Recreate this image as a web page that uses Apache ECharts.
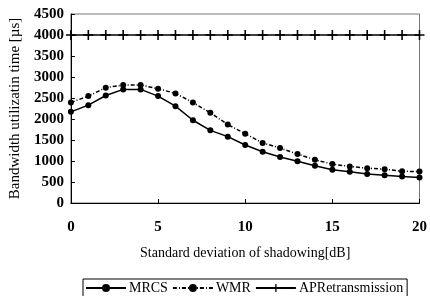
<!DOCTYPE html>
<html>
<head>
<meta charset="utf-8">
<script src="https://cdn.jsdelivr.net/npm/echarts@6/dist/echarts.min.js"></script>
<style>
  html, body { margin: 0; padding: 0; background: #fff; }
  #chart { width: 430px; height: 296px; }
</style>
</head>
<body>
<div id="chart"></div>
<script>
const xValues = [0, 1, 2, 3, 4, 5, 6, 7, 8, 9, 10, 11, 12, 13, 14, 15, 16, 17, 18, 19, 20]
const mrcs = [2170, 2330, 2560, 2705, 2705, 2545, 2305, 1970, 1730, 1580, 1380, 1220, 1095, 995, 886, 790, 742, 690, 663, 630, 605]
const wmr = [2394, 2545, 2745, 2810, 2810, 2720, 2610, 2394, 2147, 1867, 1650, 1430, 1310, 1165, 1030, 926, 870, 830, 806, 755, 750]
const apRetransmission = [4000, 4000, 4000, 4000, 4000, 4000, 4000, 4000, 4000, 4000, 4000, 4000, 4000, 4000, 4000, 4000, 4000, 4000, 4000, 4000, 4000]

const font = 'Liberation Serif'
const pair = (ys) => xValues.map((x, i) => [x, ys[i]])
// plus shaped marker for the AP line
const plus = 'path://M4.2,0 L5.8,0 L5.8,4.2 L10,4.2 L10,5.8 L5.8,5.8 L5.8,10 L4.2,10 L4.2,5.8 L0,5.8 L0,4.2 L4.2,4.2 Z'

const chart = echarts.init(document.getElementById('chart'), null, { renderer: 'canvas' })

chart.setOption({
  animation: false,
  backgroundColor: '#fff',
  textStyle: { fontFamily: font, color: '#000' },
  grid: {
    left: 70,
    right: 7,
    top: 14,
    bottom: 93,
    show: true,
    borderColor: '#777',
    borderWidth: 1,
  },
  legend: {
    top: 279,
    left: 83,
    itemGap: 4,
    itemWidth: 40,
    itemHeight: 10,
    padding: [2, 4, 3, 2],
    borderColor: '#000',
    borderWidth: 1,
    borderRadius: 0,
    textStyle: { fontFamily: font, fontSize: 14, color: '#000', padding: [0, 0, 0, -2] },
    data: ['MRCS', 'WMR', 'APRetransmission'],
  },
  xAxis: {
    type: 'value',
    min: 0,
    max: 20,
    interval: 5,
    name: 'Standard deviation of shadowing[dB]',
    nameLocation: 'middle',
    nameGap: 43,
    nameTextStyle: { fontFamily: font, fontSize: 14, color: '#000' },
    axisLine: { lineStyle: { color: '#000', width: 1 } },
    axisTick: { inside: true, length: 4, lineStyle: { color: '#000' } },
    axisLabel: { fontFamily: font, fontSize: 15, color: '#000', fontWeight: 'bold', margin: 17 },
    splitLine: { show: false },
  },
  yAxis: {
    type: 'value',
    min: 0,
    max: 4500,
    interval: 500,
    name: 'Bandwidth utilizatin time [\u00b5s]',
    nameLocation: 'middle',
    nameGap: 46,
    nameTextStyle: { fontFamily: font, fontSize: 15, color: '#000' },
    axisLine: { show: true, lineStyle: { color: '#000', width: 1 } },
    axisTick: { show: true, inside: true, length: 4, lineStyle: { color: '#000' } },
    axisLabel: {
      fontFamily: font, fontSize: 15, color: '#000', fontWeight: 'bold', margin: 7,
      formatter: (v) => String(v),
    },
    splitLine: { show: false },
  },
  series: [
    {
      name: 'MRCS',
      type: 'line',
      data: pair(mrcs),
      symbol: 'circle',
      symbolSize: 6,
      itemStyle: { color: '#000' },
      lineStyle: { color: '#000', width: 1.5 },
    },
    {
      name: 'WMR',
      type: 'line',
      data: pair(wmr),
      symbol: 'circle',
      symbolSize: 6,
      itemStyle: { color: '#000' },
      lineStyle: { color: '#000', width: 1.5, type: [4, 2, 1, 2] },
    },
    {
      name: 'APRetransmission',
      type: 'line',
      data: pair(apRetransmission),
      symbol: plus,
      symbolSize: 10,
      itemStyle: { color: '#000' },
      lineStyle: { color: '#000', width: 1.5 },
    },
  ],
})
</script>
</body>
</html>
